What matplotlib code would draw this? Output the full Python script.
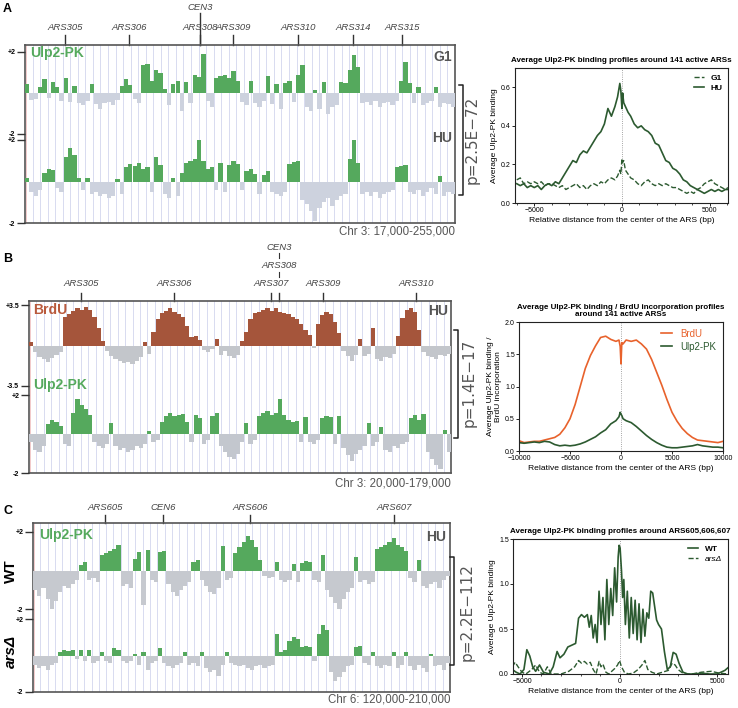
import numpy as np
import matplotlib
matplotlib.use('Agg')
import matplotlib.pyplot as plt
from matplotlib.lines import Line2D

plt.rcParams['font.family'] = ['Liberation Sans', 'DejaVu Sans']

# ---------------- data: browser tracks (signed enrichment, equal bins) ----------------
# panel A, chr3 17-255 kb
a_range = (17, 255)
a_g1 = [0.45, -0.35, -0.3, 0.3, 0.7, -0.25, 0.55, 0.3, -0.4, 0.75,
        -0.45, 0.35, -0.5, -0.6, -0.4, 0.45, -0.55, -0.8, -0.5, -0.45,
        -0.6, -0.35, 0.35, 0.7, 0.4, -0.3, -0.5, 1.35, 1.4, 0.6,
        1.1, 1.0, 0.2, -0.6, 0.45, 0.6, -0.9, 0.55, -0.5, 0.9,
        0.8, 1.9, -0.4, -0.7, 0.75, 0.85, 0.9, 0.75, 1.05, 0.6,
        -0.45, -0.6, 0.6, -0.5, -0.7, -0.4, 0.85, -0.55, 0.45, -0.8,
        0.5, 0.6, -0.45, 0.9, 1.35, -0.7, -0.9, 0.15, -0.8, 0.55,
        -1.0, -0.7, -0.6, 0.55, 0.5, 1.1, 1.85, 1.25, -0.5, -0.45,
        -0.6, -0.4, -0.7, -0.5, -0.45, -0.6, -0.4, 0.6, 1.5, 0.5,
        -0.5, 0.3, -0.6, -0.5, -0.4, 0.3, -0.7, -0.5, -0.55, -0.7]
a_hu = [0.15, -0.5, -0.7, -0.4, 0.4, 0.6, 0.55, -0.3, -0.5, 1.2,
        1.6, 1.3, 0.15, -0.4, 0.15, -0.6, -0.5, -0.7, -0.6, -0.8,
        -0.7, 0.1, -0.6, 0.7, 0.85, 0.75, 0.9, 0.6, 0.7, -0.5,
        1.2, 0.8, -0.6, -0.8, 0.15, -0.7, 0.4, 0.9, 1.0, 1.1,
        2.0, 1.0, 0.6, 0.7, -0.4, 0.9, -0.5, 0.8, 1.0, 0.85,
        -0.4, 0.5, 0.6, 0.35, -0.6, 0.3, 0.5, -0.5, -0.6, -0.7,
        -0.5, 0.85, 0.95, 1.0, -0.9, -1.1, -1.4, -1.9, -1.3, -1.0,
        -0.8, -1.2, -0.9, -0.7, -0.6, 1.1, 2.0, 0.9, -0.6, -0.5,
        -0.7, -0.5, -0.8, -0.6, -0.5, -0.4, 0.7, 0.75, 0.8, -0.5,
        -0.6, -0.4, -0.7, -0.5, -0.3, -0.6, 0.25, -0.7, -0.5, -0.6]
a_ars_names = ['ARS305', 'ARS306', 'ARS308', 'ARS309', 'ARS310', 'ARS314', 'ARS315']
a_ars_pos = [39, 74.6, 113.9, 132, 168, 198.5, 225.7]

# panel B, chr3 20-179 kb
b_range = (20, 179)
b_brdu = [0.3, -0.6, -1.0, -1.2, -1.4, -1.1, -0.8, -0.6, 2.5, 2.7,
          3.0, 3.2, 3.1, 3.3, 3.1, 2.5, 1.5, 0.4, -0.5, -0.9,
          -1.2, -1.3, -1.5, -1.4, -1.6, -1.3, -1.0, 0.3, -0.7, 1.2,
          2.3, 2.8, 3.0, 3.2, 2.9, 2.7, 2.5, 1.7, 0.7, 0.8,
          0.5, -0.4, -0.6, -0.3, 0.55, -0.8, -0.5, -0.9, -1.1, -0.8,
          0.4, 1.2, 2.3, 2.8, 2.9, 3.1, 3.2, 3.0, 3.2, 2.9,
          2.8, 2.7, 2.5, 2.3, 1.9, 1.3, 0.9, -0.2, 1.9, 2.6,
          2.9, 2.7, 2.0, 1.1, -0.5, -0.9, -1.3, -0.8, 0.6, -0.9,
          -0.7, 1.5, -1.2, -1.3, -1.0, -1.1, -0.7, 0.8, 2.4, 3.1,
          3.2, 2.9, 1.3, -0.6, -0.9, -1.0, -1.2, -0.8, -0.9, -0.7]
b_ulp2 = [-0.4, -0.8, -0.9, -0.6, 0.5, 0.7, 0.6, 0.4, -0.5, -0.6,
          1.1, 1.8, 1.5, 1.3, 1.0, -0.4, -0.6, -0.7, -0.5, 0.55,
          -0.6, -0.8, -0.7, -0.9, -0.8, -0.6, -0.7, -0.5, 0.15, -0.4,
          -0.3, 0.6, 0.9, 1.1, 0.9, 1.0, 1.05, 0.6, -0.4, 1.0,
          0.8, -0.5, -0.3, 0.9, 1.1, -0.6, -0.9, -1.2, -1.3, -1.0,
          -0.4, 0.55, -0.5, -0.3, 0.9, 1.1, 1.2, 1.0, 1.1, 1.8,
          1.0, 0.7, 0.6, 0.65, -0.4, 0.85, -0.4, -0.5, -0.3, 0.8,
          0.9, 0.85, -0.5, 0.9, -0.7, -1.1, -1.4, -1.0, -0.8, -0.6,
          0.55, -0.6, -0.4, 0.35, -0.8, -0.9, -0.6, -0.7, -0.5, -0.4,
          0.8, 1.0, 0.7, 1.05, -0.9, -1.3, -1.6, -1.8, 0.2, -0.9]
b_ars_names = ['ARS305', 'ARS306', 'ARS307', 'ARS309', 'ARS310']
b_ars_pos = [39.6, 74.6, 111.2, 130.8, 165.8]
b_stack_pos = 114.2
b_stack_names = ['ARS308', 'CEN3']

# panel C, chr6 120-210 kb
c_range = (120, 210)
c_wt = [-1.0, -1.3, -0.9, -1.5, -2.1, -1.6, -1.1, -0.8, -0.9, -0.7,
        -0.5, 0.3, 0.45, -0.5, -0.4, -0.6, 0.8, 0.9, 1.0, 1.1,
        1.35, -0.8, -0.7, -0.9, 0.6, 0.95, -1.8, 1.05, -0.5, -0.6,
        0.95, 1.0, -0.7, -1.1, -1.35, -1.0, -0.8, -0.6, 0.45, 0.55,
        -0.5, -0.8, -1.1, -1.2, -0.9, 1.25, -0.5, -0.4, 0.9, 1.2,
        1.5, 1.8, 1.6, 1.2, 0.55, -0.3, -0.4, -0.35, 0.45, -0.5,
        -0.6, -0.5, 0.35, -0.6, 0.4, 0.5, 0.45, -0.5, -0.6, 0.8,
        -1.0, -1.4, -1.7, -2.0, -1.5, -1.1, -0.9, 0.7, -0.6, -0.5,
        -0.7, -0.6, 1.1, 1.2, 1.3, 1.5, 1.7, 1.35, 1.2, 1.0,
        -0.4, -0.6, 0.55, -0.8, -0.9, -0.7, -0.6, -0.9, -0.5, -0.3]
c_arsd = [-0.5, -0.7, -0.6, -0.8, -0.5, -0.4, 0.2, 0.3, 0.25, 0.3,
          -0.2, 0.3, -0.3, 0.3, -0.4, -0.3, 0.2, -0.3, -0.4, 0.4,
          0.3, -0.3, -0.4, -0.3, 0.1, -0.5, 0.2, -0.8, -0.4, -0.3,
          0.4, -0.4, -0.6, -0.7, -0.5, -0.4, 0.2, -0.5, -0.4, -0.6,
          0.2, -0.7, -0.9, -0.8, -1.1, -0.5, 0.2, -0.4, -0.5, -0.6,
          -0.5, -0.7, -0.8, -0.6, -0.5, -0.7, -0.6, -0.5, 1.2, 0.2,
          0.3, 0.8, 1.0, 0.9, 0.45, 0.5, 0.45, -0.3, 1.2, 1.65,
          1.4, -0.9, -1.4, -1.2, -0.9, -0.6, -0.5, 0.45, 0.5, -0.4,
          -0.5, 0.2, -0.6, -0.7, -0.5, -0.6, 0.2, -0.7, -0.5, 0.2,
          -0.6, -0.8, -0.5, -0.7, -0.9, 0.1, -0.6, -0.5, -0.8, -0.4]
c_ars_names = ['ARS605', 'CEN6', 'ARS606', 'ARS607']
c_ars_pos = [135.5, 148, 166.8, 197.9]

# ---------------- data: average profiles ----------------
a_x = [-6000, -5800, -5600, -5400, -5200, -5000, -4800, -4600, -4400, -4200,
       -4000, -3800, -3600, -3400, -3200, -3000, -2800, -2600, -2400, -2200,
       -2000, -1800, -1600, -1400, -1200, -1000, -800, -600, -400,
       -250, -120, -60, 0, 40, 100, 200, 350, 500,
       700, 900, 1100, 1300, 1500, 1700, 1900, 2100, 2300, 2500,
       2700, 2900, 3100, 3300, 3500, 3700, 3900, 4100, 4300, 4500,
       4700, 4900, 5100, 5300, 5500, 5700, 5900, 6050]
a_hu_avg = [0.10, 0.09, 0.10, 0.08, 0.09, 0.08, 0.09, 0.07, 0.09, 0.10,
            0.09, 0.11, 0.10, 0.13, 0.16, 0.19, 0.22, 0.21, 0.25, 0.27,
            0.26, 0.29, 0.32, 0.35, 0.37, 0.41, 0.49, 0.45, 0.50,
            0.55, 0.62, 0.58, 0.49, 0.57, 0.52, 0.50, 0.47, 0.45,
            0.41, 0.39, 0.40, 0.38, 0.37, 0.35, 0.31, 0.30, 0.26, 0.22,
            0.21, 0.18, 0.17, 0.15, 0.12, 0.11, 0.09, 0.08, 0.07, 0.06,
            0.05, 0.06, 0.07, 0.06, 0.07, 0.06, 0.07, 0.07]
a_g1_avg = [0.12, 0.13, 0.10, 0.11, 0.10, 0.11, 0.10, 0.11, 0.09, 0.10,
            0.10, 0.09, 0.08, 0.09, 0.07, 0.08, 0.09, 0.10, 0.08, 0.09,
            0.07, 0.09, 0.10, 0.09, 0.11, 0.10, 0.12, 0.13, 0.12,
            0.14, 0.17, 0.15, 0.23, 0.21, 0.22, 0.17, 0.15, 0.13,
            0.12, 0.10, 0.09, 0.11, 0.12, 0.10, 0.09, 0.10, 0.09, 0.10,
            0.09, 0.08, 0.08, 0.07, 0.06, 0.05, 0.06, 0.05, 0.07, 0.08,
            0.10, 0.11, 0.12, 0.10, 0.09, 0.08, 0.07, 0.08]

b_x = [-10000, -9500, -9000, -8500, -8000, -7500, -7000, -6500, -6000, -5500,
       -5000, -4500, -4000, -3500, -3000, -2500, -2000, -1500, -1000, -500,
       -200, -80, 0, 80, 200,
       500, 1000, 1500, 2000, 2500, 3000, 3500, 4000, 4500, 5000,
       5500, 6000, 6500, 7000, 7500, 8000, 8500, 9000, 9500, 10000]
b_brdu_avg = [0.16, 0.13, 0.14, 0.15, 0.15, 0.17, 0.19, 0.21, 0.26, 0.36,
              0.50, 0.72, 1.00, 1.28, 1.48, 1.63, 1.76, 1.78, 1.73, 1.70,
              1.72, 1.62, 1.35, 1.68, 1.66,
              1.72, 1.70, 1.72, 1.66, 1.58, 1.42, 1.22, 1.02, 0.80, 0.60,
              0.46, 0.35, 0.27, 0.21, 0.17, 0.16, 0.15, 0.14, 0.13, 0.15]
b_ulp2_avg = [0.13, 0.12, 0.13, 0.14, 0.13, 0.15, 0.14, 0.10, 0.08, 0.09,
              0.08, 0.09, 0.11, 0.14, 0.18, 0.22, 0.28, 0.33, 0.42, 0.47,
              0.53, 0.60, 0.57, 0.55, 0.50,
              0.47, 0.44, 0.38, 0.31, 0.24, 0.18, 0.13, 0.09, 0.06, 0.05,
              0.05, 0.06, 0.07, 0.08, 0.10, 0.08, 0.07, 0.06, 0.06, 0.05]

c_wt_x = [-5500, -5300, -5100, -4900, -4750, -4600, -4450, -4300, -4100, -3900,
          -3600, -3400, -3200, -3050, -2850, -2650, -2450, -2250, -2100, -1950,
          -1800, -1650, -1550, -1450, -1350, -1250, -1150, -1050, -950, -850,
          -750, -650, -550, -450, -350, -250, -150, -70, -20, 30,
          100, 160, 220, 300, 400, 500, 600, 700, 800, 900,
          1000, 1100, 1200, 1300, 1400, 1500, 1600, 1700, 1800, 1900,
          2000, 2150, 2300, 2450, 2600, 2750, 2900, 3050, 3250, 3500,
          3800, 4200, 4600, 5000, 5200, 5400, 5560]
c_wt_avg = [0.05, 0.02, 0.00, 0.05, 0.27, 0.20, 0.08, 0.03, 0.10, 0.02,
            0.00, 0.08, 0.25, 0.18, 0.22, 0.30, 0.32, 0.34, 0.62, 0.66,
            0.63, 0.66, 0.52, 0.65, 0.40, 0.55, 0.35, 0.92, 0.55, 0.85,
            0.38, 1.05, 0.55, 0.95, 0.65, 1.18, 0.80, 1.30, 1.43, 1.40,
            1.15, 0.85, 1.05, 0.55, 0.92, 0.40, 0.85, 0.45, 0.82, 0.38,
            0.78, 0.35, 0.72, 0.42, 0.68, 0.62, 0.92, 0.90, 0.75, 0.60,
            0.55, 0.50, 0.25, 0.05, 0.08, 0.24, 0.22, 0.12, 0.02, 0.00,
            0.00, 0.01, 0.00, 0.00, 0.02, 0.04, 0.07]
c_arsd_x = [-5500, -5350, -5200, -5000, -4800, -4500, -4300, -4100, -3900, -3700,
            -3500, -3000, -2600, -2300, -2100, -1950, -1800, -1650, -1500, -1350,
            -1200, -1050, -950, -850, -700, -550, -400, -250, -100, 0,
            100, 250, 450, 700, 950, 1150, 1300, 1450, 1650, 1900,
            2200, 2500, 2700, 2850, 3000, 3300, 3700, 4200, 4700, 5100,
            5560]
c_arsd_avg = [0.08, 0.13, 0.08, 0.02, 0.00, 0.05, 0.10, 0.02, 0.00, 0.08,
              0.00, 0.00, 0.03, 0.08, 0.15, 0.12, 0.14, 0.11, 0.13, 0.05,
              0.00, 0.14, 0.08, 0.11, 0.02, 0.00, 0.03, 0.06, 0.10, 0.15,
              0.08, 0.02, 0.00, 0.01, 0.05, 0.10, 0.15, 0.05, 0.02, 0.00,
              0.02, 0.04, 0.12, 0.10, 0.05, 0.00, 0.00, 0.02, 0.03, 0.01,
              0.00]

GREEN = '#55A95D'
BROWN = '#A5553B'
DARKGREEN = '#2C5A30'
ORANGE = '#E8622C'

W, H = 738, 708
fig = plt.figure(figsize=(W / 100, H / 100), dpi=100)


def add_px(x0, y0, x1, y1):
    return fig.add_axes([x0 / W, 1 - y1 / H, (x1 - x0) / W, (y1 - y0) / H])


def ftext(x, y, s, **kw):
    fig.text(x / W, 1 - y / H, s, **kw)


def box_axes(x0, y0, x1, y1, rng):
    ax = add_px(x0, y0, x1, y1)
    ax.set_xlim(*rng)
    ax.set_ylim(0, 1)
    ax.set_xticks([])
    ax.set_yticks([])
    for s in ax.spines.values():
        s.set_color('#555555')
        s.set_linewidth(1.2)
    for gx in np.linspace(rng[0], rng[1], 58)[1:-1]:
        ax.axvline(gx, color='#D8DBF0', lw=0.7, zorder=0)
    ax.axvline(rng[0] + (rng[1] - rng[0]) * 0.002, color='#EDB5B5', lw=0.5)
    return ax


def track(x0, y_top, x1, y_bot, rng, vals, lim, pos_col, neg_col, labels):
    ax = add_px(x0, y_top, x1, y_bot)
    ax.patch.set_alpha(0)
    v = np.array(vals)
    w = (rng[1] - rng[0]) / len(v)
    xs = rng[0] + w * (np.arange(len(v)) + 0.5)
    ax.bar(xs, v, width=w, color=np.where(v > 0, pos_col, neg_col), linewidth=0)
    ax.set_xlim(*rng)
    ax.set_ylim(-lim, lim)
    for s in ax.spines.values():
        s.set_visible(False)
    ax.set_xticks([])
    ax.set_yticks([lim, -lim])
    ax.set_yticklabels(labels, fontsize=5, fontweight='bold')
    ax.tick_params(axis='y', length=6, width=1, pad=1, color='#333333')
    return ax


def ars_marks(ax, names, poss, hb, tick_px, label_px):
    tr = ax.get_xaxis_transform()
    for name, p in zip(names, poss):
        ax.plot([p, p], [1, 1 + tick_px / hb], color='#333333', lw=1,
                transform=tr, clip_on=False)
        ax.text(p, 1 + label_px / hb, name, transform=tr, ha='center', va='center',
                fontsize=6.8, style='italic', color='#444444')


def bracket(x, y0, y1):
    fig.add_artist(Line2D([(x - 4) / W, x / W, x / W, (x - 4) / W],
                          [1 - y0 / H, 1 - y0 / H, 1 - y1 / H, 1 - y1 / H],
                          color='#222222', lw=1.1))


def profile_axes(x0, y0, x1, y1):
    ax = add_px(x0, y0, x1, y1)
    for s in ax.spines.values():
        s.set_linewidth(0.8)
        s.set_color('#222222')
    ax.tick_params(labelsize=5, length=2, width=0.6, pad=1)
    ax.tick_params(which='minor', length=1.5, width=0.5)
    ax.axvline(0, color='#888888', lw=0.6, ls=':')
    return ax


# ================= Panel A =================
ftext(3, 9, 'A', fontsize=9, fontweight='bold', va='center')
axA = box_axes(25, 45, 455, 223, a_range)
ars_marks(axA, a_ars_names, a_ars_pos, 178, 10, 17)
tr = axA.get_xaxis_transform()
axA.plot([a_ars_pos[2]] * 2, [1, 1 + 32 / 178], color='#333333', lw=1, transform=tr, clip_on=False)
axA.text(a_ars_pos[2], 1 + 38 / 178, 'CEN3', transform=tr, ha='center', va='center',
         fontsize=6.8, style='italic', color='#444444')
track(25, 52, 455, 134, a_range, a_g1, 2, GREEN, '#CDD2DE', ['+2', '-2'])
track(25, 140, 455, 223, a_range, a_hu, 2, GREEN, '#CDD2DE', ['+2', '-2'])
ftext(30, 53, 'Ulp2-PK', fontsize=10, fontweight='bold', color=GREEN, va='center')
ftext(452, 57, 'G1', fontsize=10, fontweight='bold', color='#555555', ha='right', va='center')
ftext(452, 138, 'HU', fontsize=10, fontweight='bold', color='#555555', ha='right', va='center')
ftext(455, 232, 'Chr 3: 17,000-255,000', fontsize=8.3, color='#555555', ha='right', va='center')
bracket(463, 85, 195)
ftext(472, 140, 'p=2.5E\u221272', rotation=90, fontsize=11, family='DejaVu Sans',
      color='#555555', ha='center', va='center')

pA = profile_axes(515, 68, 728, 203)
pA.plot(a_x, a_g1_avg, color=DARKGREEN, lw=1, ls='--', label='G1')
pA.plot(a_x, a_hu_avg, color=DARKGREEN, lw=1.2, label='HU')
pA.set_xlim(-6100, 6050)
pA.set_ylim(0, 0.7)
pA.set_xticks([-5000, 0, 5000])
pA.set_xticks(np.arange(-6000, 6001, 1000), minor=True)
pA.set_yticks([0, 0.2, 0.4, 0.6])
pA.set_yticklabels(['0.0', '0.2', '0.4', '0.6'])
pA.set_title('Average Ulp2-PK binding profiles around 141 active ARSs',
             fontsize=5.8, fontweight='bold', pad=4)
pA.set_xlabel('Relative distance from the center of the ARS (bp)', fontsize=6.1, labelpad=2)
pA.set_ylabel('Average Ulp2-PK binding', fontsize=6, labelpad=2)
pA.legend(loc='upper right', frameon=False, prop={'size': 6, 'weight': 'bold'},
          handlelength=1.2, labelspacing=0.3, borderaxespad=0.3)

# ================= Panel B =================
ftext(3, 259, 'B', fontsize=9, fontweight='bold', va='center')
axB = box_axes(29, 301, 451, 473, b_range)
ars_marks(axB, b_ars_names, b_ars_pos, 172, 8, 18)
tr = axB.get_xaxis_transform()
axB.plot([b_stack_pos] * 2, [1, 1 + 8 / 172], color='#333333', lw=1, transform=tr, clip_on=False)
axB.plot([b_stack_pos] * 2, [1 + 24 / 172, 1 + 29 / 172], color='#333333', lw=0.8,
         transform=tr, clip_on=False)
axB.plot([b_stack_pos] * 2, [1 + 43 / 172, 1 + 48 / 172], color='#333333', lw=0.8,
         transform=tr, clip_on=False)
for name, off in zip(b_stack_names, [36, 54]):
    axB.text(b_stack_pos, 1 + off / 172, name, transform=tr, ha='center', va='center',
             fontsize=6.8, style='italic', color='#444444')
track(29, 305, 451, 386, b_range, b_brdu, 3.5, BROWN, '#C3C6CB', ['+3.5', '-3.5'])
track(29, 395, 451, 473, b_range, b_ulp2, 2, GREEN, '#C3C7CE', ['+2', '-2'])
ftext(33, 310, 'BrdU', fontsize=10, fontweight='bold', color='#B95A3C', va='center')
ftext(33, 385, 'Ulp2-PK', fontsize=10, fontweight='bold', color=GREEN, va='center')
ftext(448, 311, 'HU', fontsize=10, fontweight='bold', color='#555555', ha='right', va='center')
ftext(451, 484, 'Chr 3: 20,000-179,000', fontsize=8.3, color='#555555', ha='right', va='center')
bracket(458, 330, 438)
ftext(469, 383, 'p=1.4E\u221217', rotation=90, fontsize=11, family='DejaVu Sans',
      color='#555555', ha='center', va='center')

pB = profile_axes(519, 322, 723, 451)
pB.plot(b_x, b_brdu_avg, color=ORANGE, lw=1.2, label='BrdU')
pB.plot(b_x, b_ulp2_avg, color=DARKGREEN, lw=1.2, label='Ulp2-PK')
pB.set_xlim(-10000, 10000)
pB.set_ylim(0, 2.0)
pB.set_xticks([-10000, -5000, 0, 5000, 10000])
pB.set_yticks([0, 0.5, 1.0, 1.5, 2.0])
pB.set_yticklabels(['0.0', '0.5', '1.0', '1.5', '2.0'])
pB.set_title('Average Ulp2-PK binding / BrdU incorporation profiles\naround 141 active ARSs',
             fontsize=5.8, fontweight='bold', pad=4, linespacing=1.1)
pB.set_xlabel('Relative distance from the center of the ARS (bp)', fontsize=6.1, labelpad=2)
pB.set_ylabel('Average Ulp2-PK binding /\nBrdU incorporation', fontsize=6, labelpad=2)
pB.legend(loc='upper right', frameon=False, prop={'size': 7}, labelcolor='linecolor',
          handlelength=1.2, labelspacing=0.3, borderaxespad=0.3)

# ================= Panel C =================
ftext(3, 511, 'C', fontsize=9, fontweight='bold', va='center')
axC = box_axes(33, 523, 450, 692, c_range)
ars_marks(axC, c_ars_names, c_ars_pos, 169, 8, 16)
track(33, 532, 450, 609, c_range, c_wt, 2, GREEN, '#C6C9CF', ['+2', '-2'])
track(33, 619, 450, 692, c_range, c_arsd, 2, GREEN, '#C6C9CF', ['+2', '-2'])
ftext(39, 535, 'Ulp2-PK', fontsize=10, fontweight='bold', color=GREEN, va='center')
ftext(446, 537, 'HU', fontsize=10, fontweight='bold', color='#555555', ha='right', va='center')
ftext(11, 571, 'WT', rotation=90, fontsize=11, fontweight='bold', ha='center', va='center')
ftext(11, 651, 'ars\u0394', rotation=90, fontsize=11, fontweight='bold', style='italic',
      ha='center', va='center')
ftext(450, 700, 'Chr 6: 120,000-210,000', fontsize=8.3, color='#555555', ha='right', va='center')
bracket(454, 557, 665)
ftext(467, 612, 'p=2.2E\u2212112', rotation=90, fontsize=11, family='DejaVu Sans',
      color='#555555', ha='center', va='center')

pC = profile_axes(513, 539, 728, 674)
pC.plot(c_wt_x, c_wt_avg, color=DARKGREEN, lw=1.2, label='WT')
pC.plot(c_arsd_x, c_arsd_avg, color=DARKGREEN, lw=1, ls='--', label='ars\u0394')
pC.set_xlim(-5460, 5560)
pC.set_ylim(0, 1.5)
pC.set_xticks([-5000, 0, 5000])
pC.set_xticks(np.arange(-5000, 5001, 1000), minor=True)
pC.set_yticks([0, 0.5, 1.0, 1.5])
pC.set_yticklabels(['0.0', '0.5', '1.0', '1.5'])
pC.set_title('Average Ulp2-PK binding profiles around ARS605,606,607',
             fontsize=5.8, fontweight='bold', pad=4)
pC.set_xlabel('Relative distance from the center of the ARS (bp)', fontsize=6.1, labelpad=2)
pC.set_ylabel('Average Ulp2-PK binding', fontsize=6, labelpad=2)
legC = pC.legend(loc='upper right', frameon=False, prop={'size': 6},
                 handlelength=1.2, labelspacing=0.3, borderaxespad=0.3)
legC.get_texts()[0].set_fontweight('bold')
legC.get_texts()[1].set_style('italic')

fig.savefig('out.png', dpi=100)
